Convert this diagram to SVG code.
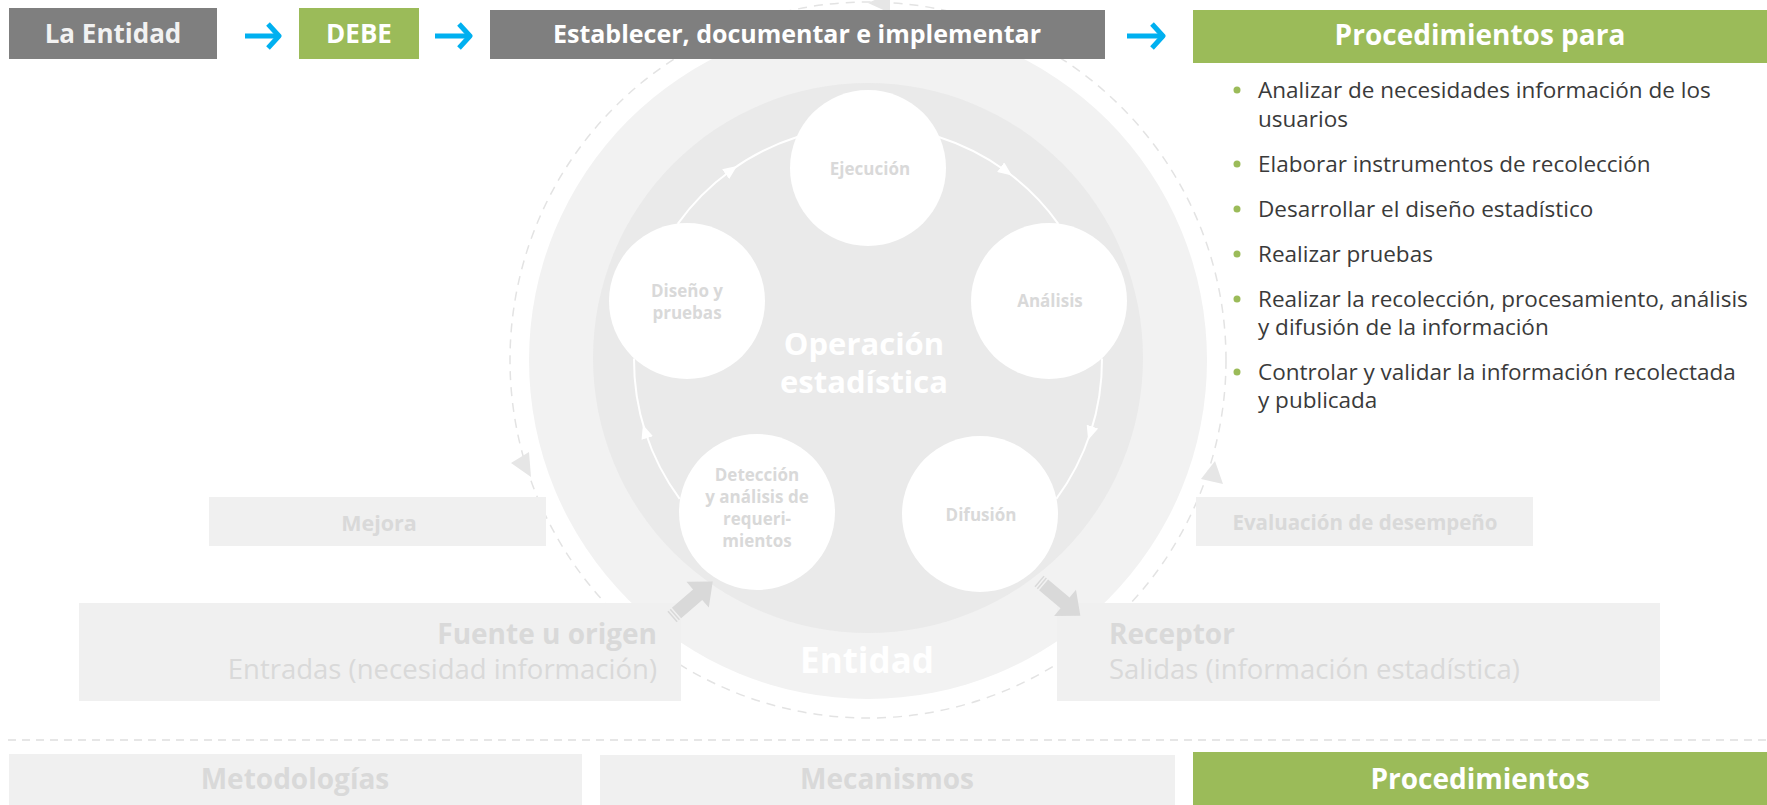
<svg xmlns="http://www.w3.org/2000/svg" width="1767" height="805" viewBox="0 0 1767 805">
<defs>
<style>
text{font-family:"Open Sans","Liberation Sans",Arial,sans-serif}
.hdr{font-size:26px;font-weight:700;fill:#f2f2f2;text-anchor:middle}
.gbox{fill:#7f7f7f}
.green{fill:#9bbb59}
.lbox{fill:#f0f0f0}
.lt{fill:#d9d9d9;font-weight:700}
.node{fill:#ffffff}
.nl{font-size:17px;font-weight:700;fill:#d9d9d9;text-anchor:middle}
.bl{font-size:22.5px;fill:#3a3a3a}
.dot{fill:#9bbb59}
.arc{fill:none;stroke:#ffffff;stroke-width:2}
.dash{fill:none;stroke:#e3e3e3;stroke-width:1.5;stroke-dasharray:9 7}
.blue{fill:none;stroke:#00b0f0;stroke-width:5}
.dh{fill:#e6e6e6}
.blk{fill:#d9d9d9}
.wt{fill:#ffffff;font-weight:700;text-anchor:middle}
</style>
<marker id="wa" viewBox="0 0 14 12" refX="6" refY="6" markerWidth="14" markerHeight="12" markerUnits="userSpaceOnUse" orient="auto"><path d="M0,0 L14,6 L0,12 z" fill="#ffffff"/></marker>
<marker id="ba" viewBox="0 0 16 28" refX="13" refY="14" markerWidth="16" markerHeight="28" markerUnits="userSpaceOnUse" orient="auto"><path d="M2,2 L13,14 L2,26" fill="none" stroke="#00b0f0" stroke-width="5" stroke-linejoin="round"/></marker>
<g id="blockArrow"><rect x="0" y="-7" width="1.5" height="14"/><rect x="3" y="-7" width="1.5" height="14"/><path d="M6,-7 L34,-7 L34,-17 L54,0 L34,17 L34,7 L6,7 z"/></g>
</defs>

<g id="cycle-background">
<circle class="dash" cx="868" cy="360" r="358"/>
<polygon class="dh" points="868,3 890,-7 890,13"/>
<polygon class="dh" points="529,452 511,463 531,477"/>
<polygon class="dh" points="1215,461 1201,479 1223,484"/>
<circle cx="868" cy="360" r="339" fill="#f2f2f2"/>
<circle cx="868" cy="358" r="275" fill="#eaeaea"/>
<text class="wt" x="864" y="355" font-size="31">Operación</text>
<text class="wt" x="864" y="393" font-size="31">estadística</text>
<text class="wt" x="867" y="673" font-size="35">Entidad</text>
</g>

<g id="connectors">
<path class="blue" d="M245,36 H279" marker-end="url(#ba)"/>
<path class="blue" d="M435,36 H470" marker-end="url(#ba)"/>
<path class="blue" d="M1127,36 H1163" marker-end="url(#ba)"/>
<path class="arc" d="M679.7,498.9 A234,234 0 0 1 645.4,432.3 A234,234 0 0 1 634.0,358.4" marker-mid="url(#wa)"/>
<path class="arc" d="M677.7,223.8 A234,234 0 0 1 730.5,170.7 A234,234 0 0 1 797.2,137.0" marker-mid="url(#wa)"/>
<path class="arc" d="M938.8,137.0 A234,234 0 0 1 1005.5,170.7 A234,234 0 0 1 1058.3,223.8" marker-mid="url(#wa)"/>
<path class="arc" d="M1102.0,358.4 A234,234 0 0 1 1090.6,432.3 A234,234 0 0 1 1056.3,498.9" marker-mid="url(#wa)"/>
</g>

<g id="ejecucion"><circle class="node" cx="868" cy="168" r="78"/><text class="nl" x="870" y="175">Ejecución</text></g>
<g id="analisis"><circle class="node" cx="1049" cy="301" r="78"/><text class="nl" x="1050" y="307">Análisis</text></g>
<g id="difusion"><circle class="node" cx="980" cy="514" r="78"/><text class="nl" x="981" y="521">Difusión</text></g>
<g id="deteccion"><circle class="node" cx="757" cy="512" r="78"/><text class="nl" x="757"><tspan x="757" y="481">Detección</tspan><tspan x="757" y="503">y análisis de</tspan><tspan x="757" y="525">requeri-</tspan><tspan x="757" y="547">mientos</tspan></text></g>
<g id="diseno"><circle class="node" cx="687" cy="301" r="78"/><text class="nl" x="687"><tspan x="687" y="297">Diseño y</tspan><tspan x="687" y="319">pruebas</tspan></text></g>

<g id="mejora"><rect class="lbox" x="209" y="497" width="337" height="49"/><text class="lt" x="379" y="531" font-size="21.5" text-anchor="middle">Mejora</text></g>
<g id="evaluacion"><rect class="lbox" x="1196" y="497" width="337" height="49"/><text class="lt" x="1365" y="530" font-size="20.5" text-anchor="middle">Evaluación de desempeño</text></g>
<g id="fuente"><rect class="lbox" x="79" y="603" width="602" height="98"/><text class="lt" x="657" y="644" font-size="28" text-anchor="end">Fuente u origen</text><text x="657" y="679" font-size="27.5" fill="#d9d9d9" text-anchor="end">Entradas (necesidad información)</text></g>
<g id="receptor"><rect class="lbox" x="1057" y="603" width="603" height="98"/><text class="lt" x="1109" y="644" font-size="28">Receptor</text><text x="1109" y="679" font-size="27.5" fill="#d9d9d9">Salidas (información estadística)</text></g>

<g id="flow-arrows" class="blk">
<use href="#blockArrow" transform="translate(672,617) rotate(-41)"/>
<use href="#blockArrow" transform="translate(1039,581) rotate(40)"/>
</g>

<g id="la-entidad"><rect class="gbox" x="9" y="8" width="208" height="51"/><text class="hdr" x="113" y="43">La Entidad</text></g>
<g id="debe"><rect class="green" x="299" y="8" width="120" height="51"/><text class="hdr" x="359" y="43" style="fill:#ffffff">DEBE</text></g>
<g id="establecer"><rect class="gbox" x="490" y="10" width="615" height="49"/><text class="hdr" x="797" y="43" style="fill:#ffffff;font-size:25px">Establecer, documentar e implementar</text></g>
<g id="procedimientos-para"><rect class="green" x="1193" y="10" width="574" height="53"/><text class="hdr" x="1480" y="45" style="fill:#ffffff;font-size:28px">Procedimientos para</text></g>

<g id="lista">
<circle class="dot" cx="1237" cy="90" r="3.5"/><text class="bl" x="1258" y="98">Analizar de necesidades información de los</text><text class="bl" x="1258" y="127">usuarios</text>
<circle class="dot" cx="1237" cy="164" r="3.5"/><text class="bl" x="1258" y="172">Elaborar instrumentos de recolección</text>
<circle class="dot" cx="1237" cy="209" r="3.5"/><text class="bl" x="1258" y="217">Desarrollar el diseño estadístico</text>
<circle class="dot" cx="1237" cy="254" r="3.5"/><text class="bl" x="1258" y="262">Realizar pruebas</text>
<circle class="dot" cx="1237" cy="299" r="3.5"/><text class="bl" x="1258" y="307">Realizar la recolección, procesamiento, análisis</text><text class="bl" x="1258" y="335">y difusión de la información</text>
<circle class="dot" cx="1237" cy="372" r="3.5"/><text class="bl" x="1258" y="380">Controlar y validar la información recolectada</text><text class="bl" x="1258" y="408">y publicada</text>
</g>

<g id="separador"><path d="M8,740 H1767" fill="none" stroke="#e6e6e6" stroke-width="2" stroke-dasharray="8 6"/></g>

<g id="metodologias"><rect class="lbox" x="9" y="754" width="573" height="51"/><text class="lt" x="295" y="789" font-size="28" text-anchor="middle">Metodologías</text></g>
<g id="mecanismos"><rect class="lbox" x="600" y="755" width="575" height="50"/><text class="lt" x="887" y="789" font-size="28" text-anchor="middle">Mecanismos</text></g>
<g id="procedimientos"><rect class="green" x="1193" y="752" width="574" height="53"/><text class="wt" x="1480" y="789" font-size="28">Procedimientos</text></g>
</svg>
